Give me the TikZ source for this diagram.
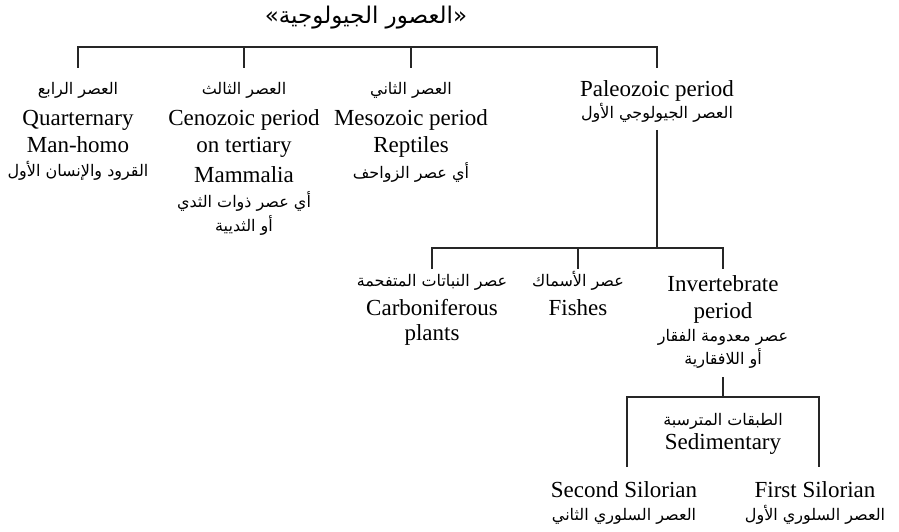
\documentclass[tikz,border=0pt]{standalone}
\usepackage{fontspec}
\setmainfont{Liberation Serif}
\newfontfamily\arabicfont[Script=Arabic]{DejaVu Sans}
\TeXXeTstate=1
\begin{document}
\begin{tikzpicture}[x=1pt,y=-1pt,
  en/.style={font=\fontsize{23}{27}\selectfont, inner sep=0pt, anchor=base},
  arl/.style={font=\arabicfont\fontsize{16}{19}\selectfont, inner sep=0pt, anchor=base},
  ttl/.style={font=\arabicfont\fontsize{23}{27}\selectfont, inner sep=0pt, anchor=base},
  conn/.style={line width=1.3pt, draw=black!85}]
\useasboundingbox (0,0) rectangle (899,532);
% title
\node[ttl] (title) at (366,24) {\beginR«العصور الجيولوجية»\endR};
% level 1
\node[arl] (c1a) at (78,95) {\beginR العصر الرابع\endR};
\node[en]  (c1b) at (78,125) {Quarternary};
\node[en]  (c1c) at (78,153) {Man-homo};
\node[arl] (c1d) at (78,176) {\beginR القرود والإنسان الأول\endR};
\node[arl] (c2a) at (244,95) {\beginR العصر الثالث\endR};
\node[en]  (c2b) at (244,125) {Cenozoic period};
\node[en]  (c2c) at (244,153) {on tertiary};
\node[en]  (c2d) at (244,182) {Mammalia};
\node[arl] (c2e) at (244,207) {\beginR أي عصر ذوات الثدي\endR};
\node[arl] (c2f) at (244,231) {\beginR أو الثديية\endR};
\node[arl] (c3a) at (411,95) {\beginR العصر الثاني\endR};
\node[en]  (c3b) at (411,125) {Mesozoic period};
\node[en]  (c3c) at (411,153) {Reptiles};
\node[arl] (c3d) at (411,178) {\beginR أي عصر الزواحف\endR};
\node[en]  (c4a) at (657,97) {Paleozoic period};
\node[arl] (c4b) at (657,119) {\beginR العصر الجيولوجي الأول\endR};
% level 2
\node[arl] (p1a) at (432,286) {\beginR عصر النباتات المتفحمة\endR};
\node[en]  (p1b) at (432,315) {Carboniferous};
\node[en]  (p1c) at (432,340) {plants};
\node[arl] (p2a) at (578,286) {\beginR عصر الأسماك\endR};
\node[en]  (p2b) at (578,315) {Fishes};
\node[en]  (p3a) at (723,291) {Invertebrate};
\node[en]  (p3b) at (723,318) {period};
\node[arl] (p3c) at (723,341) {\beginR عصر معدومة الفقار\endR};
\node[arl] (p3d) at (723,364) {\beginR أو اللافقارية\endR};
% level 3
\node[arl] (s1) at (723,425) {\beginR الطبقات المترسبة\endR};
\node[en]  (s2) at (723,449) {Sedimentary};
\node[en]  (q1a) at (624,497) {Second Silorian};
\node[arl] (q1b) at (624,520) {\beginR العصر السلوري الثاني\endR};
\node[en]  (q2a) at (815,497) {First Silorian};
\node[arl] (q2b) at (815,520) {\beginR العصر السلوري الأول\endR};
% connectors level 1
\coordinate (j1) at (78,47);  \coordinate (b1) at (78,68);
\coordinate (j2) at (244,47); \coordinate (b2) at (244,68);
\coordinate (j3) at (411,47); \coordinate (b3) at (411,68);
\coordinate (j4) at (657,47); \coordinate (b4) at (657,68);
\draw[conn] (b1) -- (j1) -- (j4) -- (b4);
\draw[conn] (j2) -- (b2);
\draw[conn] (j3) -- (b3);
% connectors level 2
\coordinate (u4) at (657,130);
\coordinate (k1) at (432,248); \coordinate (e1) at (432,269);
\coordinate (k2) at (578,248); \coordinate (e2) at (578,269);
\coordinate (k3) at (723,248); \coordinate (e3) at (723,269);
\coordinate (k4) at (657,248);
\draw[conn] (u4) -- (k4);
\draw[conn] (e1) -- (k1) -- (k3) -- (e3);
\draw[conn] (k2) -- (e2);
% connectors level 3
\coordinate (u3) at (723,377); \coordinate (m3) at (723,397);
\coordinate (h1) at (627,397); \coordinate (f1) at (627,467);
\coordinate (h2) at (819,397); \coordinate (f2) at (819,467);
\draw[conn] (u3) -- (m3);
\draw[conn] (f1) -- (h1) -- (h2) -- (f2);
\end{tikzpicture}
\end{document}
